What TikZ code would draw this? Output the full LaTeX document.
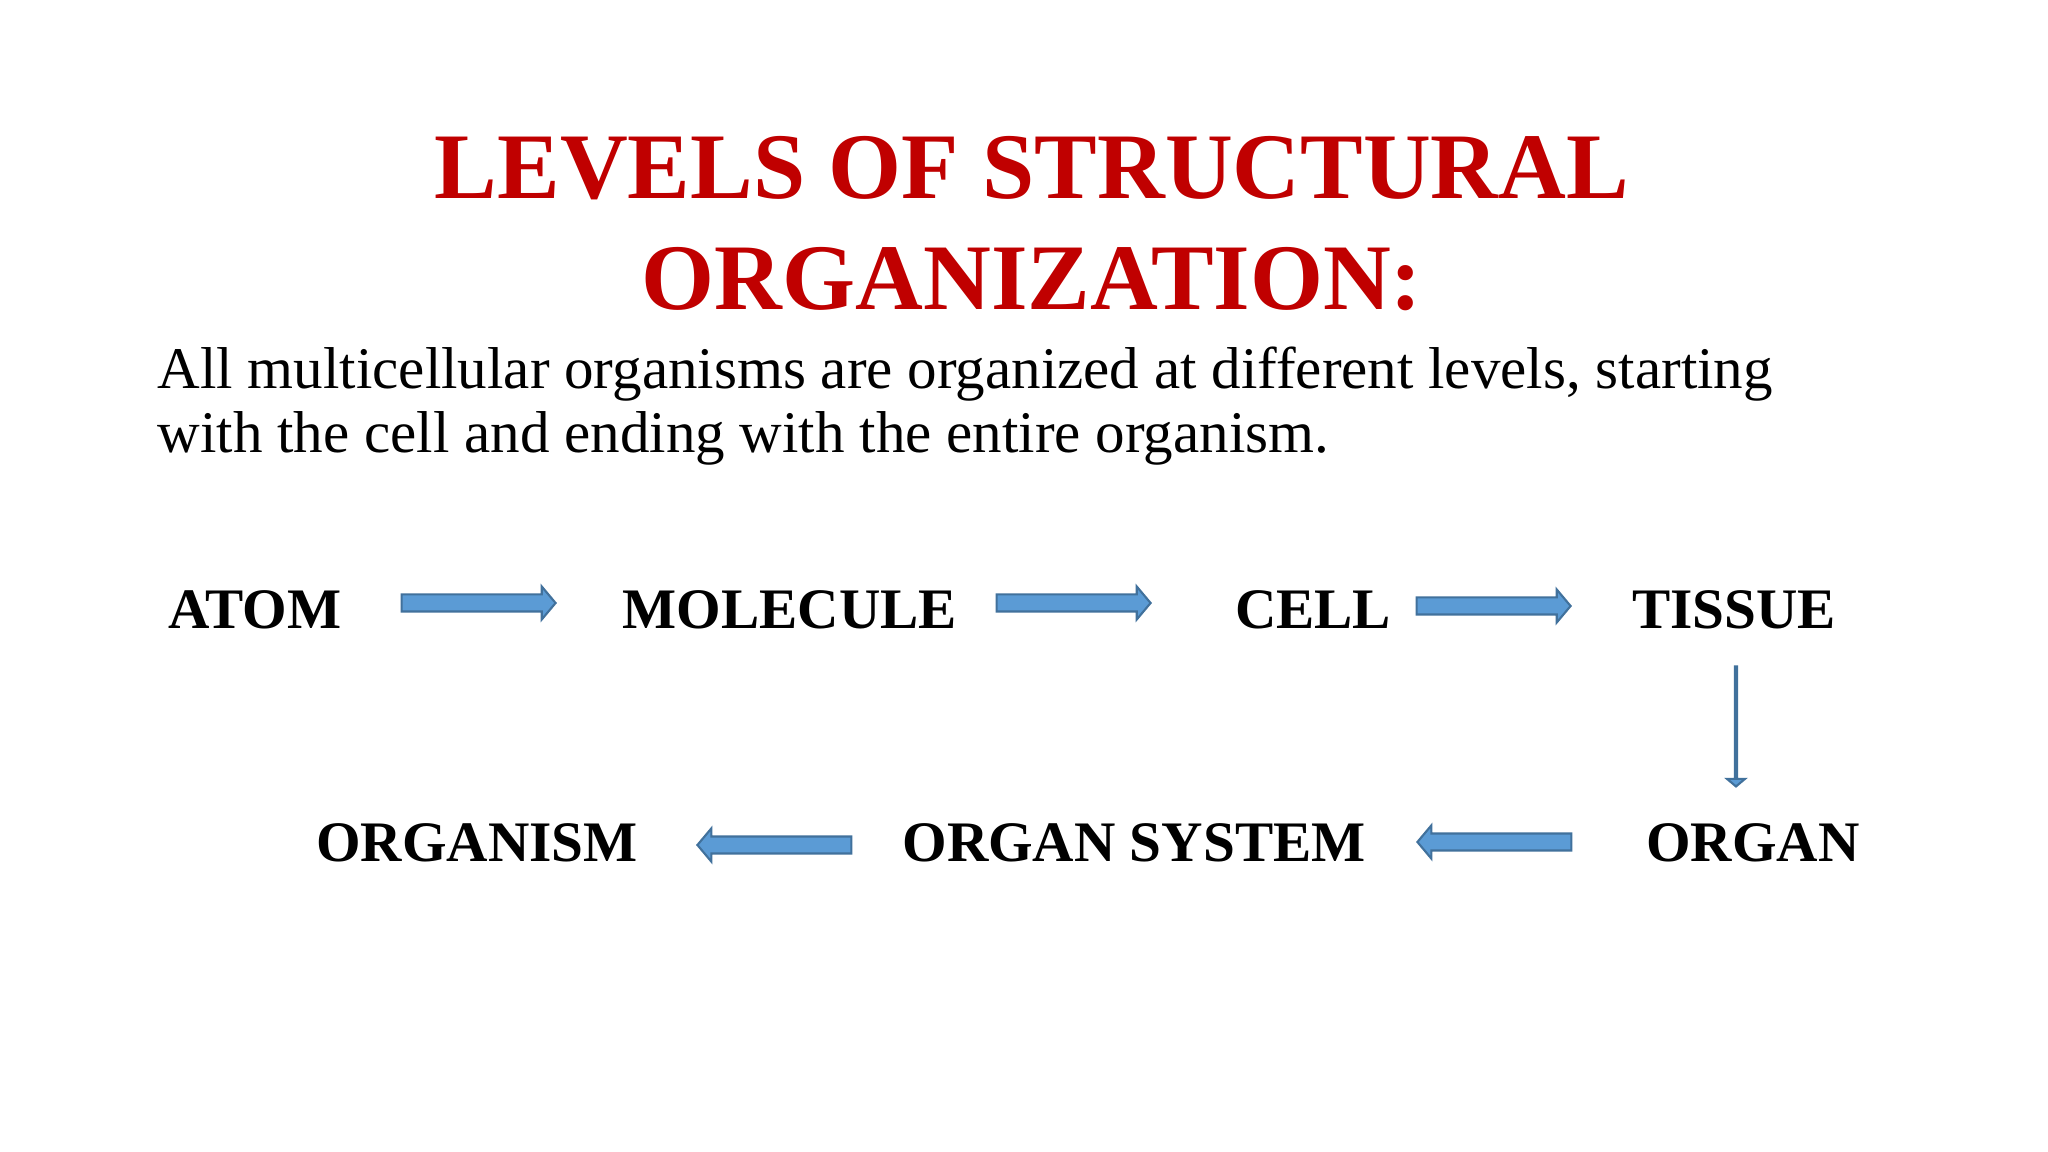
\documentclass[tikz,border=0pt]{standalone}
\usepackage{fontspec}
\setmainfont{Liberation Serif}
\usetikzlibrary{shapes.arrows}
\definecolor{ttl}{HTML}{C00000}
\definecolor{afill}{HTML}{5B9BD5}
\definecolor{aline}{HTML}{41719C}
\tikzset{
 lbl/.style={anchor=base,font=\fontsize{16.3}{20}\selectfont\bfseries},
 ttlt/.style={anchor=base,text=ttl,font=\fontsize{26.7}{32}\selectfont\bfseries},
 body/.style={anchor=base west,inner sep=0pt,font=\fontsize{16.8}{20}\selectfont},
 barrow/.style={single arrow,draw=aline,fill=afill,line width=0.6pt,minimum height=1.54cm,inner xsep=0pt,inner ysep=0.075cm,single arrow head extend=0.08cm,single arrow tip angle=100}
}
\begin{document}
\begin{tikzpicture}
\useasboundingbox[fill=white] (0,0) rectangle (20.48,-11.52);
\node[ttlt] (t1) at (10.32,-1.985) {LEVELS OF STRUCTURAL};
\node[ttlt] (t2) at (10.32,-3.095) {ORGANIZATION:};
\node[body] (b1) at (1.57,-3.89) {All multicellular organisms are organized at different levels, starting};
\node[body] (b2) at (1.57,-4.52) {with the cell and ending with the entire organism.};
\node[lbl] (atom) at (2.55,-6.29) {ATOM};
\node[lbl] (mol) at (7.90,-6.29) {MOLECULE};
\node[lbl] (cell) at (13.13,-6.29) {CELL};
\node[lbl] (tis) at (17.34,-6.29) {TISSUE};
\node[lbl] (orgm) at (4.77,-8.62) {ORGANISM};
\node[lbl] (osys) at (11.34,-8.62) {ORGAN SYSTEM};
\node[lbl] (org) at (17.53,-8.62) {ORGAN};
\node[barrow] (a1) at (4.75,-6.03) {};
\node[barrow] (a2) at (10.70,-6.03) {};
\node[barrow] (a3) at (14.90,-6.06) {};
\node[barrow,shape border rotate=270,minimum height=1.20cm] (a4) at (17.36,-7.26) {};
\node[barrow,shape border rotate=180] (a5) at (7.78,-8.45) {};
\node[barrow,shape border rotate=180] (a6) at (14.98,-8.42) {};
\end{tikzpicture}
\end{document}
